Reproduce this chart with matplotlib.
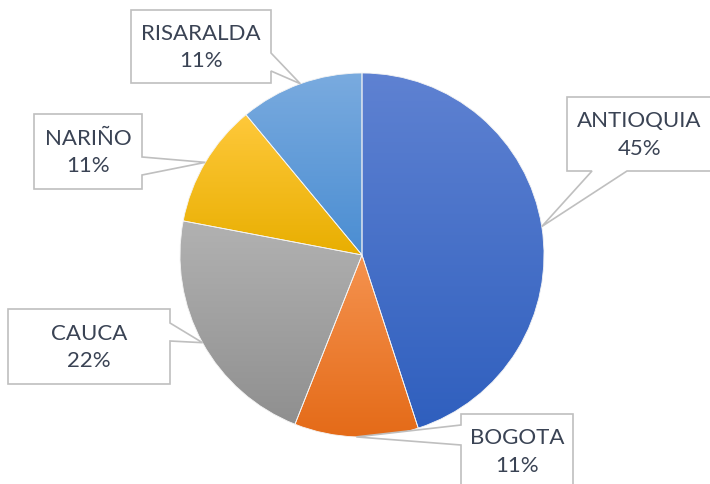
import numpy as np
import matplotlib
matplotlib.use("Agg")
import matplotlib.pyplot as plt
from matplotlib.patches import Polygon

# ---- data ----
categories = ["ANTIOQUIA", "BOGOTA", "CAUCA", "NARIÑO", "RISARALDA"]
values = [45, 11, 22, 11, 11]
colors_top = ["#5f82d2", "#f59350", "#b2b2b2", "#ffc93c", "#7aabdf"]
colors_bottom = ["#2f5fbe", "#e46a17", "#8f8f8f", "#e8ae00", "#4a8dd2"]

# ---- layout (image pixel coords: left, top, right, bottom, pointer side, base start, base end) ----
W, H = 710, 484
boxes = {
    "ANTIOQUIA": (567, 97, 712, 171, "bottom", 592, 627),
    "BOGOTA":    (461, 414, 573, 488, "left", 425, 445),
    "CAUCA":     (8, 309, 170, 384, "right", 323, 341),
    "NARIÑO":    (34, 114, 142, 189, "right", 157, 175),
    "RISARALDA": (131, 10, 271, 83, "right", 53, 71),
}

plt.rcParams['font.family'] = ['Lato', 'DejaVu Sans']
fig = plt.figure(figsize=(7.1, 4.84), dpi=100)
ax = fig.add_axes([0, 0, 1, 1])
cx, cy, r = 362, H - 255, 182

wedges, _ = ax.pie(values, startangle=90, counterclock=False, center=(cx, cy),
                   radius=r, colors=['none'] * len(values),
                   wedgeprops=dict(edgecolor='#f4f4f4', linewidth=0.6))
ax.set_xlim(0, W)
ax.set_ylim(0, H)
ax.set_aspect('equal')
ax.axis('off')

def hex2rgb(h):
    h = h.lstrip('#')
    return np.array([int(h[i:i + 2], 16) / 255 for i in (0, 2, 4)])

total = sum(values)
for w, name, val, ct, cb in zip(wedges, categories, values, colors_top, colors_bottom):
    verts = w.get_path().vertices
    x0, x1 = verts[:, 0].min(), verts[:, 0].max()
    y0, y1 = verts[:, 1].min(), verts[:, 1].max()
    t = np.linspace(0, 1, 256)[:, None]
    grad = (1 - t) * hex2rgb(cb) + t * hex2rgb(ct)
    img = grad[:, None, :]
    im = ax.imshow(img, extent=(x0 - 2, x1 + 2, y0 - 2, y1 + 2), origin='lower',
                   aspect='auto', zorder=1, interpolation='bilinear')
    im.set_clip_path(w)
    w.set_zorder(2)

    # callout
    theta = np.deg2rad((w.theta1 + w.theta2) / 2)
    tx, ty = cx + r * np.cos(theta), cy + r * np.sin(theta)
    L, T, R, B, side, s0, s1 = boxes[name]
    yT, yB = H - T, H - B
    pts = [(L, yT), (R, yT)]
    if side == "right":
        pts += [(R, H - s0), (tx, ty), (R, H - s1)]
    pts += [(R, yB)]
    if side == "bottom":
        pts += [(s1, yB), (tx, ty), (s0, yB)]
    pts += [(L, yB)]
    if side == "left":
        pts += [(L, H - s1), (tx, ty), (L, H - s0)]
    poly = Polygon(pts, closed=True, facecolor='white', edgecolor='#bfbfbf',
                   linewidth=1.2, zorder=3, joinstyle='miter')
    ax.add_patch(poly)
    pct = f"{round(100 * val / total):d}%"
    ax.text((L + R) / 2, (yT + yB) / 2 - 1, f"{name}\n{pct}", ha='center', va='center',
            fontsize=16, color='#3a4354', linespacing=1.45, zorder=4)

fig.savefig("out.png", dpi=100)
